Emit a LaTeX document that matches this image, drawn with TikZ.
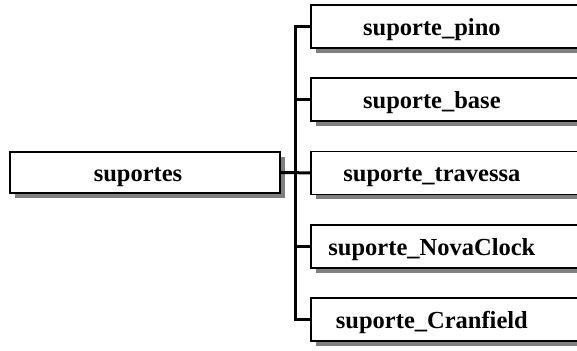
\documentclass[tikz,border=0pt]{standalone}
\usepackage{fontspec}
\setmainfont{Liberation Serif}
\usetikzlibrary{shadows}
\begin{document}
\begin{tikzpicture}[
    x=1pt, y=1pt,
    box/.style={rectangle, draw=black, fill=white, line width=1.8pt,
                inner xsep=0pt, inner ysep=0pt, align=center,
                text height=21pt, text depth=3pt,
                font=\fontsize{24.5}{28}\selectfont\bfseries,
                drop shadow={shadow xshift=5pt, shadow yshift=-5pt,
                             fill=black!50, opacity=1}},
    rootbox/.style={box, text width=270pt, minimum height=41pt},
    subbox/.style={box, text width=300pt, minimum height=43pt, anchor=west},
    link/.style={line width=3pt, black}
]
    \useasboundingbox (0,0) rectangle (577,-350);
    \node[rootbox] (sup) at (145,-172.5) {suportes\kern14pt};
    \foreach \name/\txt [count=\i from 0] in
        {pino/pino, base/base, trav/travessa, nova/NovaClock, cran/Cranfield}
        \node[subbox] (\name) at (310,{-26.5-73.2*\i}) {suporte\_\txt\kern58pt};

    \draw[link] (pino.west) -- ++(-15,0) |- (cran.west);
    \draw[link] (base.west) -- ++(-15,0);
    \draw[link] (nova.west) -- ++(-15,0);
    \draw[link] (sup.east) -- (trav.west);
\end{tikzpicture}
\end{document}
